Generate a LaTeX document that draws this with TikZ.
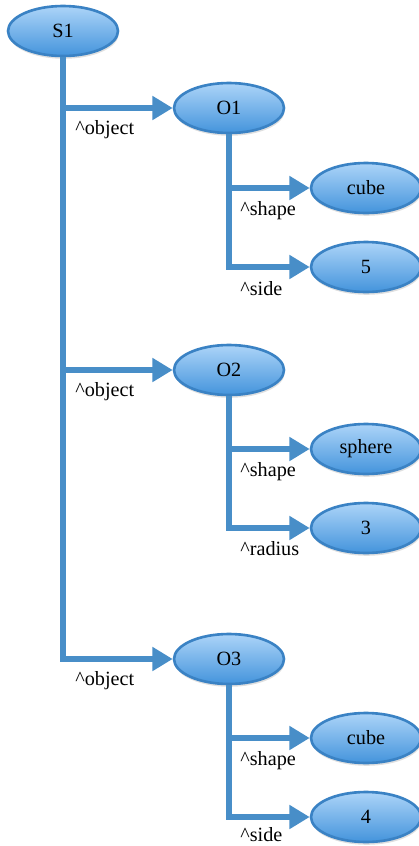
\documentclass[tikz,border=0pt]{standalone}
\usepackage{fontspec}
\setmainfont{Liberation Serif}
\usetikzlibrary{arrows.meta,shapes.geometric,shadows}

\definecolor{linkblue}{RGB}{72,142,200}
\definecolor{wmetop}{RGB}{172,212,248}
\definecolor{wmebot}{RGB}{68,148,220}
\definecolor{wmeedge}{RGB}{58,130,196}

\tikzset{
  wme/.style={ellipse, draw=wmeedge, line width=1.5pt,
    top color=wmetop, bottom color=wmebot,
    minimum width=2.2cm, minimum height=1.0cm, inner sep=0pt,
    font=\fontsize{11.5}{13}\selectfont,
    drop shadow={opacity=0.25, shadow xshift=0.4pt, shadow yshift=-1.6pt}},
  link/.style={draw=linkblue, line width=2.9pt,
    -{Triangle[length=11.5pt,width=13pt]}},
  attr/.style={anchor=west, inner sep=0pt, font=\fontsize{11.5}{13}\selectfont}
}

\begin{document}
\begin{tikzpicture}[x=0.02cm,y=-0.02cm]
  \useasboundingbox (0,0) rectangle (419,846);

  %state and objects
  \node[wme] (s1) at (63,31)  {S1};
  \node[wme] (o1) at (229,108) {O1};
  \node[wme] (o2) at (229,370) {O2};
  \node[wme] (o3) at (229,659) {O3};

  %values
  \node[wme] (cube1)  at (366,188) {cube};
  \node[wme] (side1)  at (366,267) {5};
  \node[wme] (sphere) at (366,449) {sphere};
  \node[wme] (radius) at (366,528) {3};
  \node[wme] (cube3)  at (366,738) {cube};
  \node[wme] (side3)  at (366,817) {4};

  %links
  \draw[link] (s1.south) |- (o3.west);
  \draw[link] (s1.south) |- (o2.west);
  \draw[link] (s1.south) |- (o1.west);

  \draw[link] (o1.south) |- (side1.west);
  \draw[link] (o1.south) |- (cube1.west);
  \draw[link] (o2.south) |- (radius.west);
  \draw[link] (o2.south) |- (sphere.west);
  \draw[link] (o3.south) |- (side3.west);
  \draw[link] (o3.south) |- (cube3.west);

  %attributes
  \node[attr] (a1) at (75,130) {\textasciicircum object};
  \node[attr] (a2) at (75,392) {\textasciicircum object};
  \node[attr] (a3) at (75,681) {\textasciicircum object};

  \node[attr] (a11) at (240,211) {\textasciicircum shape};
  \node[attr] (a12) at (240,289) {\textasciicircum side};
  \node[attr] (a21) at (240,472) {\textasciicircum shape};
  \node[attr] (a22) at (240,549) {\textasciicircum radius};
  \node[attr] (a31) at (240,761) {\textasciicircum shape};
  \node[attr] (a32) at (240,835) {\textasciicircum side};

\end{tikzpicture}
\end{document}
